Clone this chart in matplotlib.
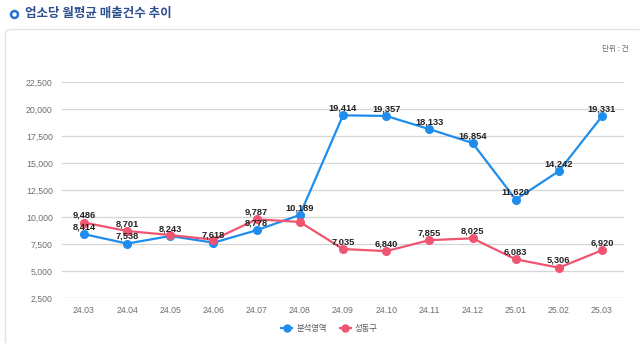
import matplotlib
matplotlib.use("Agg")
import matplotlib.pyplot as plt
from matplotlib.patches import FancyBboxPatch
from matplotlib.lines import Line2D

months = ["24.03", "24.04", "24.05", "24.06", "24.07", "24.08", "24.09",
          "24.10", "24.11", "24.12", "25.01", "25.02", "25.03"]
area_vals = [8414, 7538, 8243, 7618, 8778, 10189, 19414, 19357, 18133,
             16854, 11620, 14242, 19331]
district_vals = [9486, 8701, 8330, 7900, 9787, 9540, 7035, 6840, 7855,
                 8025, 6083, 5306, 6920]
# labels shown in the reference (False = hidden due to overlap)
area_labels = [True] * 13
district_labels = [True, True, False, False, True, False, True, True, True,
                   True, True, True, True]
series_names = ["분석영역", "성동구"]
y_ticks = [2500, 5000, 7500, 10000, 12500, 15000, 17500, 20000, 22500]

BLUE = "#1f8ded"
RED = "#ef5470"
NUM_FONT = "Liberation Sans"
KR_FONT = ["Noto Sans CJK KR", "DejaVu Sans"]

fig = plt.figure(figsize=(6.4, 3.43), dpi=100)
fig.patch.set_facecolor("white")

# panel
panel = FancyBboxPatch((5.5 / 640, -0.05), 1.0, (343 - 29.5) / 343 + 0.05,
                       boxstyle="round,pad=0,rounding_size=0.012",
                       transform=fig.transFigure, facecolor="white",
                       edgecolor="#e3e3e3", linewidth=1.0, zorder=0)
fig.patches.append(panel)

# title icon and title
fig.add_artist(Line2D([14 / 640], [1 - 13.5 / 343], transform=fig.transFigure,
                      marker="o", markersize=5, markerfacecolor="white",
                      markeredgecolor="#2a6fd6", markeredgewidth=1.8,
                      linestyle="none"))
fig.text(25 / 640, 1 - 13.5 / 343, "업소당 월평균 매출건수 추이", family=KR_FONT,
         fontsize=9, fontweight="bold", color="#2c4f8f", va="center", ha="left")
fig.text(629 / 640, 1 - 49 / 343, "단위 : 건", family=KR_FONT, fontsize=5.5,
         color="#666666", va="center", ha="right")

ax = fig.add_axes([62.4 / 640, 1 - 298 / 343, (623.6 - 62.4) / 640, (298 - 82) / 343])
ax.set_zorder(5)
ax.set_facecolor("none")
x = list(range(len(months)))

ax.plot(x, area_vals, color=BLUE, linewidth=1.6, marker="o", markersize=5.5,
        zorder=3, clip_on=False)
ax.plot(x, district_vals, color=RED, linewidth=1.6, marker="o", markersize=5.5,
        zorder=4, clip_on=False)

for xi, v, show in zip(x, area_vals, area_labels):
    if show:
        ax.annotate(f"{v:,}", (xi, v), xytext=(0, 3.5), textcoords="offset points",
                    ha="center", va="baseline", fontsize=6.7, fontweight="bold",
                    family=NUM_FONT, color="#222222", zorder=6)
for xi, v, show in zip(x, district_vals, district_labels):
    if show:
        ax.annotate(f"{v:,}", (xi, v), xytext=(0, 3.5), textcoords="offset points",
                    ha="center", va="baseline", fontsize=6.7, fontweight="bold",
                    family=NUM_FONT, color="#222222", zorder=6)

ax.set_xlim(-0.5, len(months) - 0.5)
ax.set_ylim(2500, 22500)
ax.set_yticks(y_ticks)
ax.set_yticklabels([f"{t:,}" for t in y_ticks], family=NUM_FONT, fontsize=6.3,
                   color="#6e6e6e")
ax.set_xticks(x)
ax.set_xticklabels(months, family=NUM_FONT, fontsize=6.3, color="#6e6e6e")
ax.tick_params(axis="both", length=0)
ax.tick_params(axis="y", pad=7)
ax.tick_params(axis="x", pad=6)
for s in ax.spines.values():
    s.set_visible(False)
for t in y_ticks[1:]:
    ax.axhline(t, color="#d6d6d6", linewidth=0.9, zorder=1)
ax.axhline(2500, color="#cfdaf0", linewidth=1.0, zorder=1)

handles = [Line2D([], [], color=BLUE, marker="o", markersize=5, linewidth=1.6),
           Line2D([], [], color=RED, marker="o", markersize=5, linewidth=1.6)]
leg = fig.legend(handles, series_names, loc="center",
                 bbox_to_anchor=(0.515, 1 - 328 / 343),
                 ncol=2, frameon=False, prop={"family": KR_FONT, "size": 6},
                 labelcolor="#555555", handlelength=1.3, handletextpad=0.5,
                 columnspacing=1.6)
leg.set_zorder(6)

fig.savefig("out.png", dpi=100, facecolor="white")
